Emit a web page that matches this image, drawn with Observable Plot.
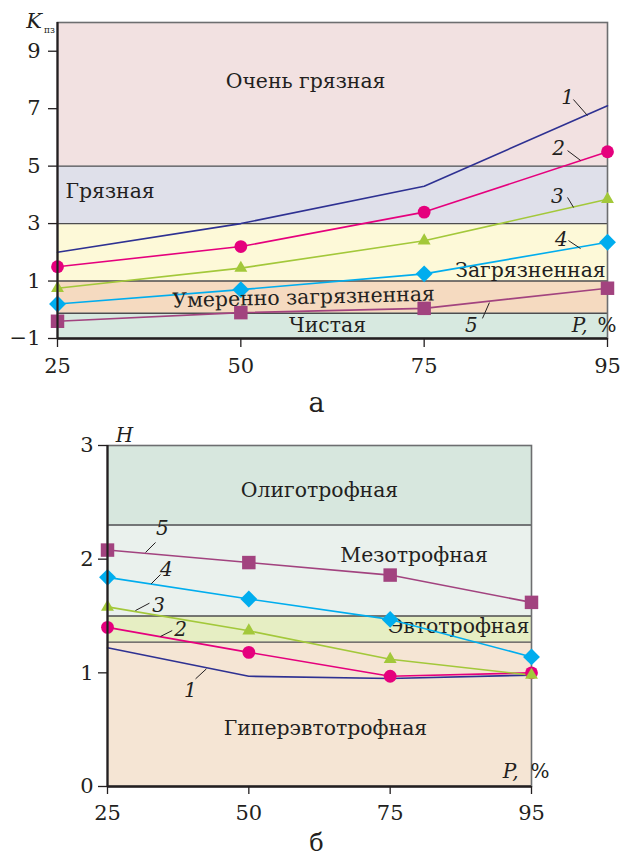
<!DOCTYPE html>
<html><head><meta charset="utf-8">
<script src="https://cdn.jsdelivr.net/npm/d3@7"></script>
<script src="https://cdn.jsdelivr.net/npm/@observablehq/plot@0.6"></script>
<style>
body{margin:0;background:#fff;}
#chart svg{display:block;}
</style></head><body><div id="chart"></div>
<script>
// ---------- data ----------
const pCats = [25, 50, 75, 95];               // P, %
const seriesNames = ["1", "2", "3", "4", "5"];
const seriesColors = ["#2e3192", "#e5007d", "#a3c83a", "#00adee", "#a2437f"];

// (a) K_пз
const kpz1 = [2.0, 3.0, 4.3, 7.1];
const kpz2 = [1.5, 2.2, 3.4, 5.5];
const kpz3 = [0.75, 1.45, 2.4, 3.85];
const kpz4 = [0.2, 0.7, 1.25, 2.35];
const kpz5 = [-0.4, -0.1, 0.05, 0.75];
const kpzTicks = [-1, 1, 3, 5, 7, 9];
const kpzZones = ["Чистая", "Умеренно загрязненная", "Загрязненная", "Грязная", "Очень грязная"];
const kpzBounds = [-1, -0.12, 1, 3, 5, 10];
const kpzZoneColors = ["#d7e9e0", "#f5dac0", "#fdf9d8", "#dfe0ea", "#f2e1e1"];

// (б) H
const h1 = [1.22, 0.97, 0.95, 0.98];
const h2 = [1.40, 1.18, 0.97, 1.00];
const h3 = [1.58, 1.37, 1.12, 0.98];
const h4 = [1.84, 1.65, 1.47, 1.14];
const h5 = [2.08, 1.97, 1.86, 1.62];
const hTicks = [0, 1, 2, 3];
const hZones = ["Гиперэвтотрофная", "Эвтотрофная", "Мезотрофная", "Олиготрофная"];
const hBounds = [0, 1.27, 1.5, 2.3, 3];
const hZoneColors = ["#f5e5d4", "#e6eec3", "#eaf1ed", "#d7e7de"];

// ---------- helpers ----------
const INK = "#231f20";
const FONT = "DejaVu Serif";
const ZF = 20.4; // zone label font size
const xIdx = pCats.map((_, i) => i);
const symbols = [null, "circle", "triangle", "diamond2", "square"];
const symbolR = [0, 6.4, 4.8, 7.6, 7.6];

function rows(seriesArrays) {
  return seriesArrays.flatMap((arr, s) => arr.map((v, i) => ({i, v, s})));
}
function zoneRows(names, bounds, colors) {
  return names.map((n, k) => ({n, lo: bounds[k], hi: bounds[k + 1], c: colors[k]}));
}
function label(t, x, y, o = {}) {
  return Plot.text([{t, x, y}], {x: "x", y: "y", text: "t", fill: INK, fontFamily: FONT, ...o});
}
function seriesMarks(data) {
  const marks = [];
  seriesNames.forEach((_, s) => {
    marks.push(Plot.line(data.filter(d => d.s === s), {x: "i", y: "v", stroke: seriesColors[s], strokeWidth: 1.6}));
  });
  seriesNames.forEach((_, s) => {
    if (!symbols[s]) return;
    marks.push(Plot.dot(data.filter(d => d.s === s), {x: "i", y: "v", symbol: symbols[s], r: symbolR[s], fill: seriesColors[s], stroke: "none"}));
  });
  return marks;
}
const fmt = d => d < 0 ? "\u2212" + (-d) : String(d);

// ---------- chart (a) ----------
const kData = rows([kpz1, kpz2, kpz3, kpz4, kpz5]);
const kZ = zoneRows(kpzZones, kpzBounds, kpzZoneColors);

const plotA = Plot.plot({
  width: 623, height: 420,
  marginLeft: 57, marginRight: 16, marginTop: 22, marginBottom: 82,
  style: {fontFamily: FONT, fontSize: "19px", color: INK, background: "white"},
  x: {type: "linear", domain: [0, 3]},
  y: {type: "linear", domain: [-1, 10]},
  marks: [
    ...kZ.map(z => Plot.rect([z], {x1: 0, x2: 3, y1: "lo", y2: "hi", fill: z.c})),
    Plot.ruleY(kpzBounds.slice(1, -1), {stroke: "#4d4d4f", strokeWidth: 1.4}),
    Plot.frame({stroke: "#6d6e70", strokeWidth: 1.6}),
    label("Очень грязная", 1.353, 7.95, {fontSize: ZF}),
    label("Грязная", 0.044, 4.12, {fontSize: ZF, textAnchor: "start"}),
    label("Загрязненная", 2.99, 1.37, {fontSize: ZF, textAnchor: "end"}),
    label("Чистая", 1.473, -0.55, {fontSize: ZF}),
    ...seriesMarks(kData),
    label("Умеренно загрязненная", 1.342, 0.43, {fontSize: ZF, rotate: -1.5}),
    Plot.ruleX([0], {stroke: INK, strokeWidth: 2.2}),
    Plot.ruleY([-1], {stroke: INK, strokeWidth: 2.6}),
    Plot.axisY(kpzTicks, {tickSize: 9, tickPadding: 8, fontSize: 21, tickFormat: fmt, label: null, strokeWidth: 1.3}),
    Plot.axisX(xIdx, {tickSize: 9, tickPadding: 11, fontSize: 21, tickFormat: i => pCats[i], label: null, strokeWidth: 1.3}),
    // axis titles
    label("K", -0.128, 10.05, {fontSize: 21, fontStyle: "italic"}),
    label("пз", -0.044, 9.72, {fontSize: 9}),
    label("P,", 2.891, -0.55, {fontSize: 20, fontStyle: "italic", textAnchor: "end"}),
    label("%", 2.945, -0.55, {fontSize: 20, textAnchor: "start"}),
    // series numbers + leaders
    label("1", 2.782, 7.39, {fontSize: 20, fontStyle: "italic"}),
    label("2", 2.733, 5.61, {fontSize: 20, fontStyle: "italic"}),
    label("3", 2.727, 3.94, {fontSize: 20, fontStyle: "italic"}),
    label("4", 2.749, 2.45, {fontSize: 20, fontStyle: "italic"}),
    label("5", 2.258, -0.55, {fontSize: 20, fontStyle: "italic"}),
    Plot.link([
      {x1: 2.814, y1: 7.32, x2: 2.891, y2: 6.76},
      {x1: 2.782, y1: 5.54, x2: 2.853, y2: 5.20},
      {x1: 2.782, y1: 3.91, x2: 2.815, y2: 3.56},
      {x1: 2.787, y1: 2.41, x2: 2.853, y2: 2.13},
      {x1: 2.318, y1: -0.30, x2: 2.356, y2: 0.25}
    ], {x1: "x1", y1: "y1", x2: "x2", y2: "y2", stroke: INK, strokeWidth: 1}),
    label("а", 1.413, -3.26, {fontSize: 27})
  ]
});

// ---------- chart (б) ----------
const hData = rows([h1, h2, h3, h4, h5]);
const hZ = zoneRows(hZones, hBounds, hZoneColors);

const plotB = Plot.plot({
  width: 623, height: 436,
  marginLeft: 107, marginRight: 92, marginTop: 25, marginBottom: 70,
  style: {fontFamily: FONT, fontSize: "19px", color: INK, background: "white"},
  x: {type: "linear", domain: [0, 3]},
  y: {type: "linear", domain: [0, 3]},
  marks: [
    ...hZ.map(z => Plot.rect([z], {x1: 0, x2: 3, y1: "lo", y2: "hi", fill: z.c})),
    Plot.ruleY(hBounds.slice(1, -1), {stroke: "#4d4d4f", strokeWidth: 1.4}),
    Plot.frame({stroke: "#6d6e70", strokeWidth: 1.6}),
    label("Олиготрофная", 1.5, 2.60, {fontSize: ZF}),
    label("Мезотрофная", 2.169, 2.03, {fontSize: ZF}),
    label("Эвтотрофная", 2.484, 1.41, {fontSize: ZF}),
    label("Гиперэвтотрофная", 1.542, 0.51, {fontSize: ZF}),
    ...seriesMarks(hData),
    Plot.ruleX([0], {stroke: INK, strokeWidth: 2.2}),
    Plot.ruleY([0], {stroke: INK, strokeWidth: 2.6}),
    Plot.axisY(hTicks, {tickSize: 9, tickPadding: 5, fontSize: 21, tickFormat: fmt, label: null, strokeWidth: 1.3}),
    Plot.axisX(xIdx, {tickSize: 8, tickPadding: 11, fontSize: 21, tickFormat: i => pCats[i], label: null, strokeWidth: 1.3}),
    label("H", 0.12, 3.088, {fontSize: 20, fontStyle: "italic"}),
    label("P,", 2.908, 0.132, {fontSize: 20, fontStyle: "italic", textAnchor: "end"}),
    label("%", 2.993, 0.132, {fontSize: 20, textAnchor: "start"}),
    label("5", 0.389, 2.27, {fontSize: 20, fontStyle: "italic"}),
    label("4", 0.417, 1.91, {fontSize: 20, fontStyle: "italic"}),
    label("3", 0.361, 1.59, {fontSize: 20, fontStyle: "italic"}),
    label("2", 0.517, 1.38, {fontSize: 20, fontStyle: "italic"}),
    label("1", 0.587, 0.845, {fontSize: 20, fontStyle: "italic"}),
    Plot.link([
      {x1: 0.269, y1: 2.059, x2: 0.340, y2: 2.147},
      {x1: 0.309, y1: 1.783, x2: 0.375, y2: 1.865},
      {x1: 0.198, y1: 1.548, x2: 0.297, y2: 1.613},
      {x1: 0.375, y1: 1.320, x2: 0.458, y2: 1.372},
      {x1: 0.623, y1: 0.947, x2: 0.700, y2: 1.035}
    ], {x1: "x1", y1: "y1", x2: "x2", y2: "y2", stroke: INK, strokeWidth: 1}),
    label("б", 1.479, -0.50, {fontSize: 24})
  ]
});

const root = document.getElementById("chart");
root.append(plotA, plotB);
</script>
</body></html>
